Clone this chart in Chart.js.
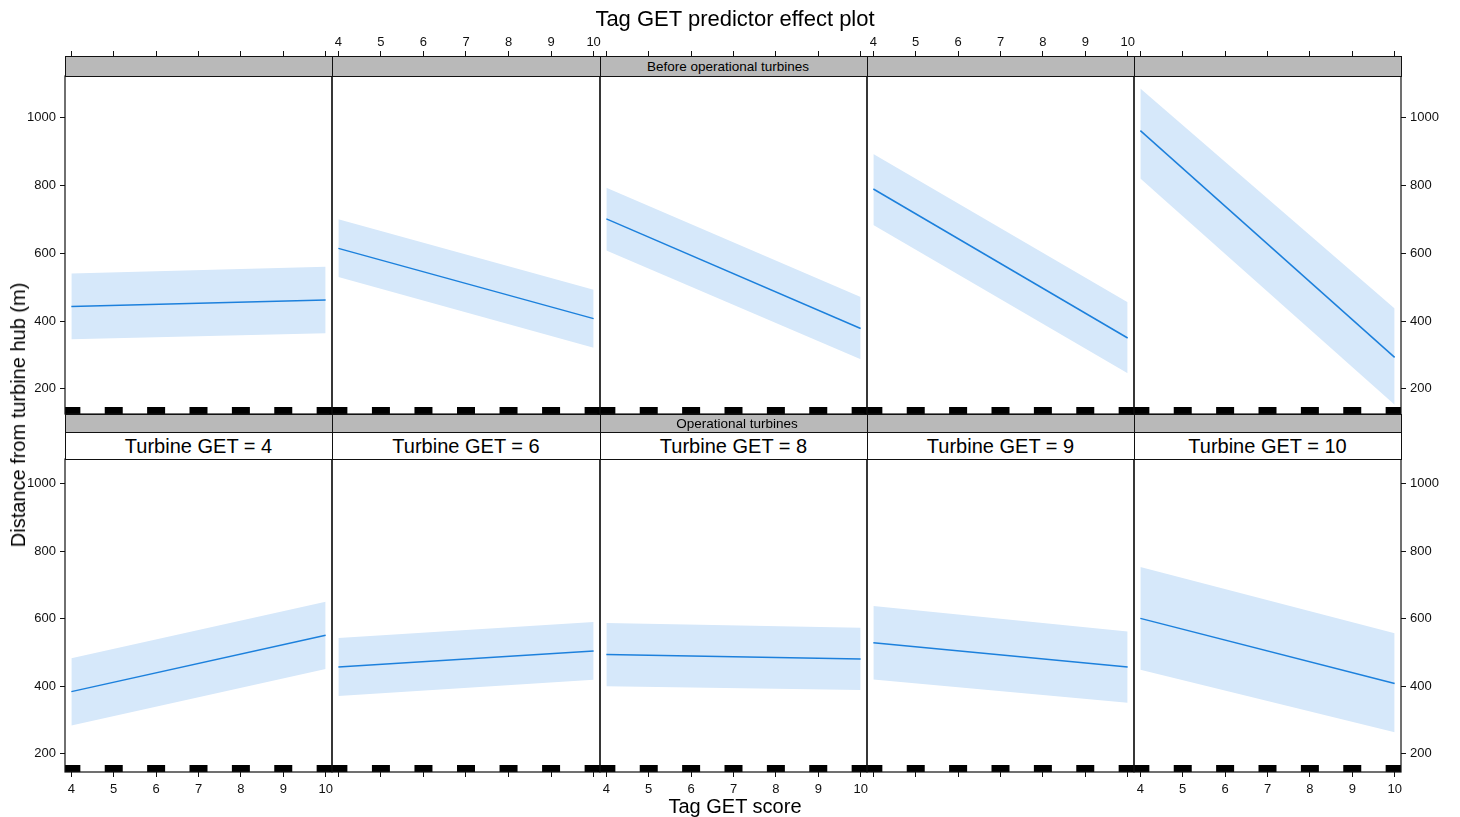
<!DOCTYPE html>
<html>
<head>
<meta charset="utf-8">
<script src="https://cdn.jsdelivr.net/npm/chart.js@4"></script>
<style>
  body { margin: 0; background: #fff; font-family: "Liberation Sans", Arial, sans-serif; }
  #page { position: relative; width: 1460px; height: 817px; overflow: hidden; background: #fff; }
  #page canvas { position: absolute; }
  .txt { position: absolute; color: #000; white-space: nowrap; transform: translate(-50%, -50%); line-height: 1; }
  .strip { position: absolute; box-sizing: border-box; border: 1px solid #111; }
</style>
</head>
<body>
<div id="page"></div>
<script>
// Tag GET effect on distance, one panel per turbine GET level and period
const tagScore = [4, 10];
const turbineGET = [4, 6, 8, 9, 10];
const periodLabels = ['Before operational turbines', 'Operational turbines'];

// fitted value and confidence band at tag score 4 and 10, one pair per turbine GET
const fitBefore   = [[443, 462], [614, 407], [701, 378], [789, 350], [961, 293]];
const upperBefore = [[540, 560], [700, 492], [793, 471], [892, 455], [1085, 437]];
const lowerBefore = [[346, 364], [530, 321], [608, 287], [683, 246], [820, 153]];

const fitOper   = [[384, 551], [457, 504], [494, 481], [529, 457], [601, 408]];
const upperOper = [[483, 650], [543, 590], [587, 573], [638, 562], [753, 557]];
const lowerOper = [[284, 451], [371, 419], [400, 389], [420, 351], [449, 264]];

// observed tag scores (rug)
const rugTag = [4, 5, 6, 7, 8, 9, 10];

const xTicks = [4, 5, 6, 7, 8, 9, 10];
const yTicks = [200, 400, 600, 800, 1000];

const xRange = [3.85, 10.15];
const colEdges = [65, 332, 600, 867, 1134, 1401];
const rows = [
    { top: 76, bottom: 414, yRange: [126, 1122], fit: fitBefore, upper: upperBefore, lower: lowerBefore },
    { top: 459, bottom: 772, yRange: [146, 1073], fit: fitOper, upper: upperOper, lower: lowerOper }
];
const M = 60;
const bandColor = '#d6e8fa';
const lineColor = '#1c80dc';

Chart.defaults.font.family = '"Liberation Sans", Arial, sans-serif';

const page = document.getElementById('page');

function addText(str, cx, cy, size, rotate) {
    const d = document.createElement('div');
    d.className = 'txt';
    d.textContent = str;
    d.style.left = cx + 'px';
    d.style.top = cy + 'px';
    d.style.fontSize = size + 'px';
    if (rotate) d.style.transform = 'translate(-50%, -50%) rotate(-90deg)';
    page.appendChild(d);
}

function addStrip(left, top, width, height, bg) {
    const d = document.createElement('div');
    d.className = 'strip';
    d.style.left = left + 'px';
    d.style.top = top + 'px';
    d.style.width = width + 'px';
    d.style.height = height + 'px';
    d.style.background = bg;
    page.appendChild(d);
}

const labelPad = { top: 1, bottom: 5, left: 4, right: 4 };

function axis(pos, range, tickList, marks, labels, tickLen) {
    const horizontal = pos === 'top' || pos === 'bottom';
    return {
        type: 'linear',
        position: pos,
        min: range[0],
        max: range[1],
        afterBuildTicks: s => { s.ticks = tickList.map(v => ({ value: v })); },
        afterFit: s => { if (horizontal) s.height = M; else s.width = M; },
        border: { display: false },
        grid: { display: marks, drawOnChartArea: false, drawTicks: true, tickLength: tickLen, color: '#111', lineWidth: 1 },
        ticks: {
            display: labels,
            color: '#111',
            font: { size: 13 },
            padding: labelPad[pos],
            maxRotation: 0,
            autoSkip: false,
            callback: v => String(v)
        }
    };
}

// rug marks and panel frame
const panelPlugin = {
    id: 'panel',
    afterDatasetsDraw(chart, args, opts) {
        const { ctx, chartArea: a } = chart;
        const x = chart.scales.x;
        ctx.save();
        const l = opts.col === 0 ? a.left : a.left - 30;
        const r = opts.col === 4 ? a.right : a.right + 30;
        ctx.beginPath();
        ctx.rect(l, a.top, r - l, a.bottom - a.top);
        ctx.clip();
        ctx.fillStyle = '#000';
        rugTag.forEach(v => {
            const px = x.getPixelForValue(v);
            ctx.fillRect(px - 9, a.bottom - 7, 18, 7);
        });
        ctx.restore();
        ctx.save();
        ctx.strokeStyle = '#111';
        ctx.lineWidth = 1.2;
        ctx.strokeRect(a.left, a.top, a.right - a.left, a.bottom - a.top);
        ctx.restore();
    }
};

function points(vals) {
    return tagScore.map((t, i) => ({ x: t, y: vals[i] }));
}

rows.forEach((row, r) => {
    turbineGET.forEach((g, c) => {
        const w = colEdges[c + 1] - colEdges[c];
        const h = row.bottom - row.top;
        const canvas = document.createElement('canvas');
        canvas.width = w + 2 * M;
        canvas.height = h + 2 * M;
        canvas.style.left = (colEdges[c] - M) + 'px';
        canvas.style.top = (row.top - M) + 'px';
        page.appendChild(canvas);

        const topRow = r === 0;
        new Chart(canvas, {
            type: 'line',
            data: {
                // fit line first so it is drawn on top of the band
                datasets: [
                    { data: points(row.fit[c]), borderColor: lineColor, borderWidth: 1.5, pointRadius: 0, fill: false, tension: 0 },
                    { data: points(row.upper[c]), borderWidth: 0, pointRadius: 0, fill: '+1', backgroundColor: bandColor, tension: 0 },
                    { data: points(row.lower[c]), borderWidth: 0, pointRadius: 0, fill: false, tension: 0 }
                ]
            },
            options: {
                responsive: false,
                animation: false,
                devicePixelRatio: 1,
                events: [],
                layout: { padding: 0 },
                plugins: { legend: { display: false }, tooltip: { enabled: false }, panel: { col: c } },
                scales: {
                    x: axis('bottom', xRange, xTicks, !topRow, !topRow && c % 2 === 0, 5),
                    xt: axis('top', xRange, xTicks, topRow, topRow && c % 2 === 1, 25),
                    y: axis('left', row.yRange, yTicks, c === 0, c === 0, 5),
                    yr: axis('right', row.yRange, yTicks, c === 4, c === 4, 5)
                }
            },
            plugins: [panelPlugin]
        });
    });
});

// strips
turbineGET.forEach((g, c) => {
    const w = colEdges[c + 1] - colEdges[c] + 1;
    addStrip(colEdges[c], 56, w, 21, '#b9b9b9');
    addStrip(colEdges[c], 414, w, 19, '#b9b9b9');
    addStrip(colEdges[c], 432, w, 28, '#ffffff');
    addText('Turbine GET = ' + g, (colEdges[c] + colEdges[c + 1]) / 2, 446, 20);
});
addText(periodLabels[0], 728, 66.5, 13.5);
addText(periodLabels[1], 737, 423.5, 13.5);

addText('Tag GET predictor effect plot', 735, 18.5, 22);
addText('Tag GET score', 735, 806, 20);
addText('Distance from turbine hub (m)', 18, 415, 20, true);
</script>
</body>
</html>
